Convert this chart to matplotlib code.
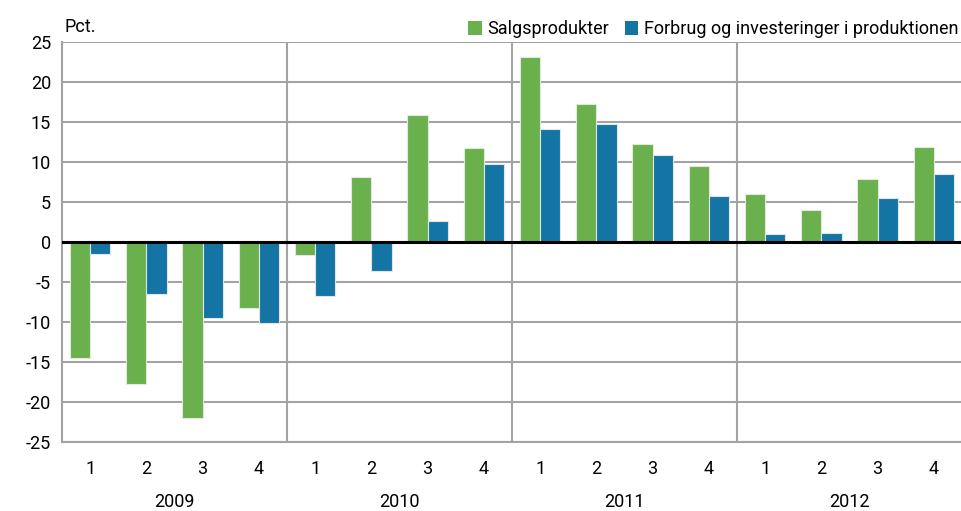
import matplotlib
matplotlib.use("Agg")
import matplotlib.pyplot as plt
from matplotlib.patches import Patch
import numpy as np

plt.rcParams['font.family'] = ['Liberation Sans Narrow', 'Roboto', 'DejaVu Sans']

years = ["2009", "2010", "2011", "2012"]
quarters = ["1", "2", "3", "4"]
salgsprodukter = [-14.5, -17.8, -22.0, -8.2,
                  -1.6, 8.1, 15.9, 11.7,
                  23.1, 17.2, 12.3, 9.5,
                  6.0, 4.0, 7.9, 11.9]
forbrug = [-1.5, -6.5, -9.5, -10.1,
           -6.7, -3.6, 2.6, 9.75,
           14.1, 14.8, 10.9, 5.8,
           1.05, 1.1, 5.5, 8.5]
labels = ["Salgsprodukter", "Forbrug og investeringer i produktionen"]
yticks = [25, 20, 15, 10, 5, 0, -5, -10, -15, -20, -25]

green = "#6ab04c"
blue = "#1474a4"
grid_c = "#a3a3a3"

fig = plt.figure(figsize=(9.61, 5.11), dpi=100)
ax = fig.add_axes([62 / 961, 69 / 511, 900 / 961, 400 / 511])

n = len(salgsprodukter)
x = np.arange(n)
w = 0.36
ax.bar(x - w / 2, salgsprodukter, width=w, color=green, edgecolor="#e2e8df", linewidth=0.8, zorder=3)
ax.bar(x + w / 2, forbrug, width=w, color=blue, edgecolor="#dfe5ea", linewidth=0.8, zorder=3)

ax.set_xlim(-0.5, n - 0.5)
ax.set_ylim(-25, 25)
ax.set_yticks(yticks)
ax.set_yticklabels([str(t) for t in yticks], fontsize=13)
ax.yaxis.grid(True, color=grid_c, linewidth=1.5, zorder=1)
ax.set_axisbelow(True)
ax.axhline(0, color="black", linewidth=2.2, zorder=4)
for b in range(1, len(years)):
    ax.axvline(b * 4 - 0.5, color=grid_c, linewidth=1.5, zorder=1)

ax.set_xticks(x)
ax.set_xticklabels(quarters * len(years), fontsize=13)
ax.tick_params(axis='both', length=0, colors="black")
ax.tick_params(axis='x', pad=13)
ax.tick_params(axis='y', pad=8)

for s in ["top", "right"]:
    ax.spines[s].set_visible(False)
for s in ["left", "bottom"]:
    ax.spines[s].set_color(grid_c)
    ax.spines[s].set_linewidth(1.5)

for i, yr in enumerate(years):
    ax.text(i * 4 + 1.5, -0.15, yr, transform=ax.get_xaxis_transform(),
            ha="center", va="center", fontsize=13)

fig.text(64 / 961, 1 - 27 / 511, "Pct.", ha="left", va="center", fontsize=13)

handles = [Patch(facecolor=green), Patch(facecolor=blue)]
leg = ax.legend(handles, labels, loc="lower right", bbox_to_anchor=(1.0, 1.0),
                ncol=2, frameon=False, fontsize=13, handlelength=0.75, handleheight=0.75,
                handletextpad=0.3, columnspacing=0.9, borderaxespad=0.1, borderpad=0.1)

fig.savefig("out.png", dpi=100)
